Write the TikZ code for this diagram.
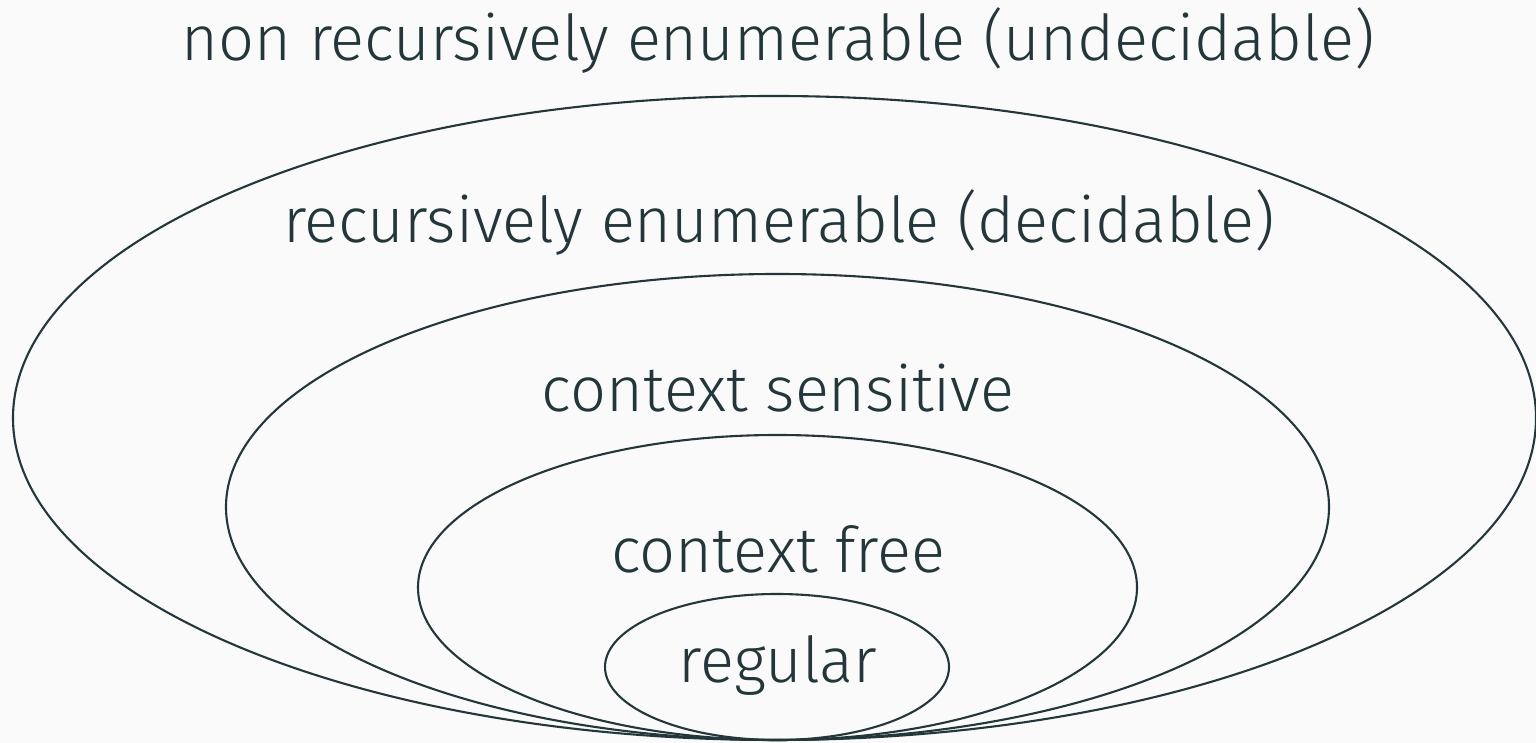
\documentclass[tikz,border=0pt]{standalone}
\usepackage{fontspec}
\setmainfont{Fira Sans Light}
\definecolor{bg}{HTML}{FAFAFA}
\definecolor{fg}{HTML}{23373B}
\begin{document}
\begin{tikzpicture}[x=0.5pt,y=0.5pt,
  set/.style={draw=fg,line width=1.05pt},
  lbl/.style={anchor=base,text=fg,inner sep=0pt,font=\fontsize{31.6}{38}\selectfont}]
\fill[bg] (0,0) rectangle (1536,743);
\useasboundingbox (0,0) rectangle (1536,743);
\draw[set] (774.5,325) ellipse [x radius=761.5,y radius=322];
\draw[set] (777.5,236) ellipse [x radius=551.5,y radius=233];
\draw[set] (777.5,155.5) ellipse [x radius=359.5,y radius=152.5];
\draw[set] (777,76) ellipse [x radius=172,y radius=73];
\node[lbl] (nre) at (778,682) {non recursively enumerable (undecidable)};
\node[lbl] (re) at (779,500) {recursively enumerable (decidable)};
\node[lbl] (cs) at (778,331) {context sensitive};
\node[lbl] (cf) at (778,170) {context free};
\node[lbl] (reg) at (778,60) {regular};
\end{tikzpicture}
\end{document}
